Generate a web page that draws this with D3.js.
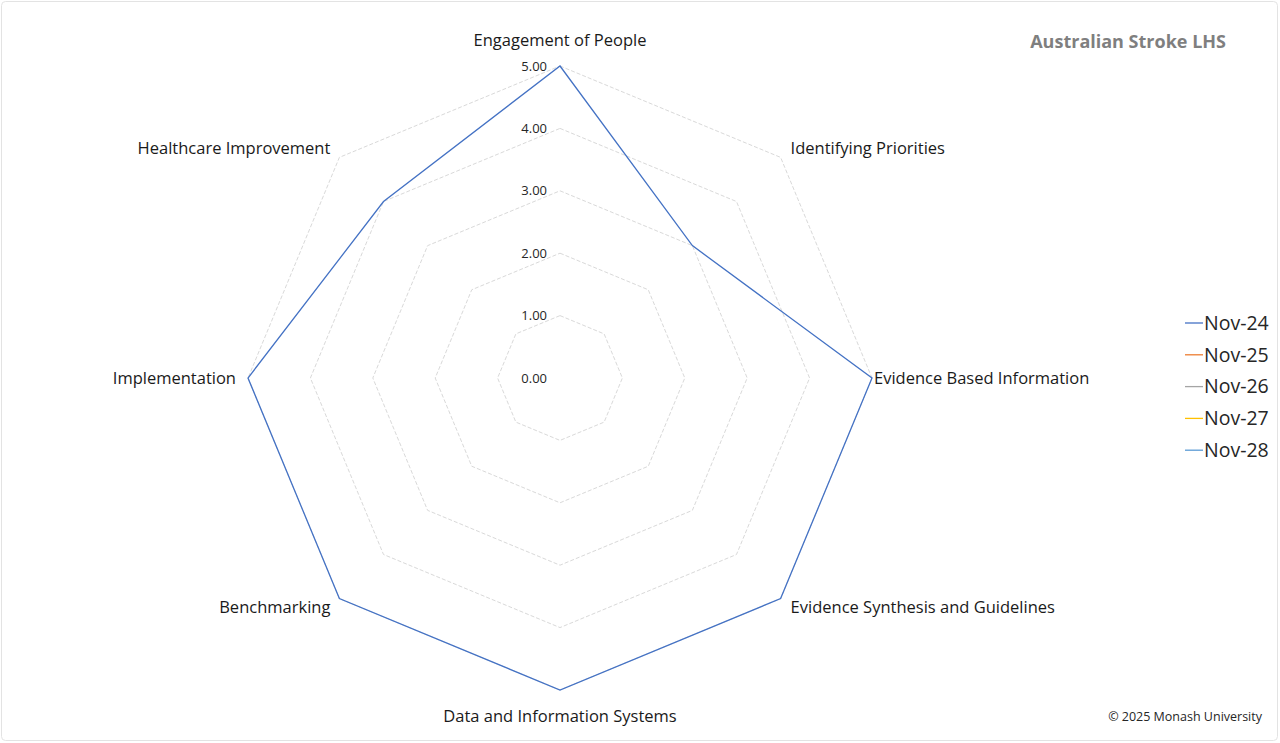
<!DOCTYPE html>
<html>
<head>
<meta charset="utf-8">
<script src="https://cdn.jsdelivr.net/npm/d3@7"></script>
<style>
  body { margin: 0; background: #fff; }
  svg { display: block; }
  text { font-family: "Open Sans", "Noto Sans", sans-serif; }
</style>
</head>
<body>
<script>
// Axis categories, clockwise from top
var categories = [
  "Engagement of People",
  "Identifying Priorities",
  "Evidence Based Information",
  "Evidence Synthesis and Guidelines",
  "Data and Information Systems",
  "Benchmarking",
  "Implementation",
  "Healthcare Improvement"
];

// Series (only Nov-24 has values)
var seriesNames = ["Nov-24", "Nov-25", "Nov-26", "Nov-27", "Nov-28"];
var seriesColors = ["#4472c4", "#ed7d31", "#a5a5a5", "#ffc000", "#5b9bd5"];
var nov24 = [5, 3, 5, 5, 5, 5, 5, 4];
var nov25 = [];
var nov26 = [];
var nov27 = [];
var nov28 = [];
var seriesValues = [nov24, nov25, nov26, nov27, nov28];

var tickValues = [0, 1, 2, 3, 4, 5];

function radar() {
  var w = 1280;
  var h = 743;
  var cx = 560;
  var cy = 378;
  var R = 312;

  var svg = d3.select("body")
              .append("svg")
              .attr("width", w)
              .attr("height", h);

  // chart border
  svg.append("rect")
    .attr("x", 1.5)
    .attr("y", 1.5)
    .attr("width", w - 4)
    .attr("height", h - 4)
    .attr("rx", 4)
    .attr("fill", "#fff")
    .attr("stroke", "#e3e3e3");

  var r = d3.scaleLinear().domain([0, 5]).range([0, R]);
  var angle = d3.scaleLinear()
                .domain([0, categories.length])
                .range([0, 2 * Math.PI]);

  function pt(i, v) {
    var a = angle(i);
    return [cx + r(v) * Math.sin(a), cy - r(v) * Math.cos(a)];
  }

  var g = svg.append("g");

  // grid rings
  g.selectAll("polygon.ring")
    .data(tickValues.filter(function (d) { return d > 0; }))
    .enter()
    .append("polygon")
    .attr("class", "ring")
    .attr("points", function (d) {
      return categories.map(function (c, i) { return pt(i, d).join(","); }).join(" ");
    })
    .attr("fill", "none")
    .attr("stroke", "#d9d9d9")
    .attr("stroke-width", 1)
    .attr("stroke-dasharray", "4,2");

  // tick labels
  g.selectAll("text.tick")
    .data(tickValues)
    .enter()
    .append("text")
    .attr("class", "tick")
    .attr("x", cx - 13)
    .attr("y", function (d) { return cy - r(d); })
    .attr("dy", "0.35em")
    .attr("text-anchor", "end")
    .attr("font-size", "13px")
    .attr("fill", "#262626")
    .text(function (d) { return d3.format(".2f")(d); });

  // category labels
  g.selectAll("text.cat")
    .data(categories)
    .enter()
    .append("text")
    .attr("class", "cat")
    .attr("x", function (d, i) {
      var p = pt(i, 5);
      var s = Math.sin(angle(i));
      var c = Math.cos(angle(i));
      if (Math.abs(s) < 0.01) return p[0];
      if (Math.abs(c) < 0.01) return p[0] + (s > 0 ? 2 : -12);
      return p[0] + (s > 0 ? 10 : -9);
    })
    .attr("y", function (d, i) {
      var p = pt(i, 5);
      var c = Math.cos(angle(i));
      if (Math.abs(Math.sin(angle(i))) < 0.01) return p[1] + (c > 0 ? -26 : 26);
      return p[1] + (c > 0.01 ? -9 : (c < -0.01 ? 9 : 0));
    })
    .attr("dy", "0.35em")
    .attr("text-anchor", function (d, i) {
      var s = Math.sin(angle(i));
      if (Math.abs(s) < 0.01) return "middle";
      return s > 0 ? "start" : "end";
    })
    .attr("font-size", "16.5px")
    .attr("fill", "#1a1a1a")
    .text(function (d) { return d; });

  // series lines
  var line = d3.line().curve(d3.curveLinearClosed);
  seriesValues.forEach(function (vals, k) {
    if (!vals.length) return;
    g.append("path")
      .attr("d", line(vals.map(function (v, i) { return pt(i, v); })))
      .attr("fill", "none")
      .attr("stroke", seriesColors[k])
      .attr("stroke-width", 1.3);
  });

  // legend
  var leg = svg.append("g").attr("transform", "translate(1185,323)");
  var row = leg.selectAll("g")
    .data(seriesNames)
    .enter()
    .append("g")
    .attr("transform", function (d, i) { return "translate(0," + (i * 31.8) + ")"; });
  row.append("line")
    .attr("x1", 0).attr("x2", 18)
    .attr("y1", 0).attr("y2", 0)
    .attr("stroke", function (d, i) { return seriesColors[i]; })
    .attr("stroke-width", 1.3);
  row.append("text")
    .attr("x", 19)
    .attr("dy", "0.35em")
    .attr("font-size", "19.5px")
    .attr("fill", "#262626")
    .text(function (d) { return d; });

  // title
  svg.append("text")
    .attr("x", 1226)
    .attr("y", 42)
    .attr("dy", "0.35em")
    .attr("text-anchor", "end")
    .attr("font-size", "18px")
    .attr("font-weight", "bold")
    .attr("fill", "#7f7f7f")
    .text("Australian Stroke LHS");

  // footer
  svg.append("text")
    .attr("x", 1262)
    .attr("y", 717)
    .attr("dy", "0.35em")
    .attr("text-anchor", "end")
    .attr("font-size", "12.5px")
    .attr("fill", "#262626")
    .text("\u00a9 2025 Monash University");
}

radar();
</script>
</body>
</html>
